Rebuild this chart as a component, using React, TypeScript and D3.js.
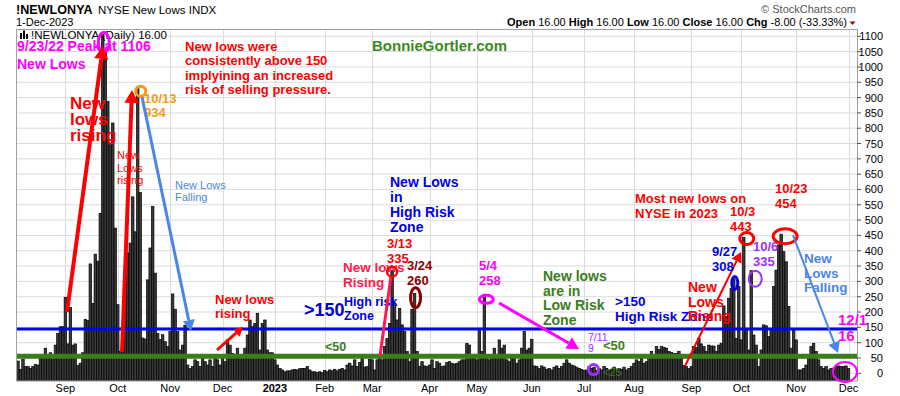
import * as d3 from 'd3';

// NYSE new lows, daily, 5-Aug-2022 .. 1-Dec-2023 (one value per trading day)
const newLows: number[] = [
  40, 13, 46, 22, 22, 16, 22, 29, 27, 49,
  54, 82, 49, 67, 46, 92, 130, 152, 152, 248,
  96, 215, 92, 96, 25, 33, 67, 176, 172, 357,
  228, 389, 366, 522, 1106, 1050, 888, 746, 817, 474,
  224, 72, 121, 344, 393, 425, 576, 462, 934, 590,
  115, 112, 305, 409, 545, 327, 130, 110, 126, 103,
  87, 136, 259, 209, 136, 76, 92, 157, 27, 16,
  22, 44, 38, 22, 49, 38, 27, 44, 22, 49,
  44, 27, 49, 38, 109, 92, 65, 54, 82, 54,
  49, 82, 125, 174, 152, 163, 196, 76, 163, 174,
  76, 67, 67, 44, 27, 16, 11, 5, 8, 8,
  11, 13, 11, 15, 16, 16, 22, 11, 5, 5,
  2, 5, 2, 9, 5, 11, 8, 13, 8, 13,
  16, 11, 27, 33, 24, 44, 22, 35, 49, 20,
  22, 46, 44, 11, 44, 48, 44, 87, 114, 163,
  335, 228, 174, 212, 158, 136, 71, 38, 209, 260,
  71, 22, 38, 24, 22, 27, 44, 16, 38, 33,
  22, 24, 35, 38, 33, 30, 33, 38, 44, 44,
  98, 92, 49, 54, 44, 147, 71, 258, 54, 44,
  60, 82, 54, 109, 82, 92, 44, 38, 49, 49,
  33, 44, 82, 136, 76, 82, 111, 24, 22, 16,
  24, 20, 13, 16, 11, 20, 24, 16, 22, 33,
  44, 33, 27, 24, 20, 16, 13, 9, 11, 22,
  16, 20, 9, 16, 11, 22, 16, 11, 13, 20,
  11, 16, 13, 20, 11, 16, 22, 33, 44, 38,
  49, 33, 38, 60, 71, 54, 87, 78, 87, 85,
  82, 71, 68, 65, 65, 72, 60, 25, 22, 16,
  22, 87, 84, 114, 96, 87, 71, 92, 89, 89,
  71, 92, 98, 220, 185, 245, 277, 308, 114, 283,
  109, 443, 141, 76, 335, 125, 92, 22, 76, 158,
  155, 120, 141, 283, 337, 419, 454, 397, 364, 218,
  82, 141, 109, 11, 11, 16, 27, 57, 87, 98,
  71, 44, 22, 16, 22, 11, 16, 11, 22, 24,
  22, 22, 24, 16,
];

// first trading day of each month (index into newLows)
const monthLabels = ['Sep', 'Oct', 'Nov', 'Dec', '2023', 'Feb', 'Mar', 'Apr', 'May', 'Jun', 'Jul', 'Aug', 'Sep', 'Oct', 'Nov', 'Dec'];
const monthStarts = [19, 40, 61, 82, 103, 123, 142, 165, 184, 206, 227, 247, 270, 290, 312, 333];

const yTicks = d3.range(0, 1101, 50);
const highRiskLevel = 145;
const lowRiskLevel = 56;

const FONT = '"Liberation Sans", Arial, Helvetica, sans-serif';
const W = 900;
const H = 396;
const plot = { left: 16, right: 857, top: 29, bottom: 380.5 };

const RED = '#ff0000';
const MAGENTA = '#ff00ff';
const LBLUE = '#4a86e8';
const BLUE = '#0000ff';
const GREEN = '#3a7d1c';
const PURPLE = '#9b30ff';

function Arrow({ x1, y1, x2, y2, color, width, head }: {
  x1: number; y1: number; x2: number; y2: number; color: string; width: number; head: number;
}) {
  const a = Math.atan2(y2 - y1, x2 - x1);
  const bx = x2 - Math.cos(a) * head;
  const by = y2 - Math.sin(a) * head;
  const hw = head * 0.55;
  const p1 = [bx + Math.sin(a) * hw, by - Math.cos(a) * hw];
  const p2 = [bx - Math.sin(a) * hw, by + Math.cos(a) * hw];
  return (
    <g>
      <line x1={x1} y1={y1} x2={bx} y2={by} stroke={color} strokeWidth={width} />
      <polygon points={`${x2},${y2} ${p1[0]},${p1[1]} ${p2[0]},${p2[1]}`} fill={color} />
    </g>
  );
}

function Lines({ x, y, lines, size, color, bold = true, gap }: {
  x: number; y: number; lines: string[]; size: number; color: string; bold?: boolean; gap: number;
}) {
  return (
    <text x={x} y={y} fontSize={size} fill={color} fontWeight={bold ? 'bold' : 'normal'} fontFamily={FONT}>
      {lines.map((l, i) => (
        <tspan key={i} x={x} dy={i === 0 ? 0 : gap}>{l}</tspan>
      ))}
    </text>
  );
}

export default function App() {
  const x = d3.scaleLinear().domain([0, newLows.length - 1]).range([18, 848.5]);
  const y = d3.scaleLinear().domain([0, 1100]).range([373.3, 36.3]);
  const barW = 2.5;

  return (
    <svg width={W} height={H} style={{ position: 'absolute', left: 0, top: 0, background: '#fff' }} fontFamily={FONT}>
      {/* header */}
      <text x={16} y={14} fontSize={12.6} fontWeight="bold" fill="#000">!NEWLONYA</text>
      <text x={98} y={14} fontSize={11.5} fill="#000">NYSE New Lows  INDX</text>
      <text x={16} y={26} fontSize={11} fill="#000">1-Dec-2023</text>
      <text x={856} y={13} fontSize={11} fill="#555" textAnchor="end">© StockCharts.com</text>
      <text x={847} y={26} fontSize={11} fill="#000" textAnchor="end">
        <tspan fontWeight="bold">Open</tspan> 16.00  <tspan fontWeight="bold">High</tspan> 16.00  <tspan fontWeight="bold">Low</tspan> 16.00  <tspan fontWeight="bold">Close</tspan> 16.00  <tspan fontWeight="bold">Chg</tspan> -8.00 (-33.33%)
      </text>
      <polygon points="849.5,21.5 855.5,21.5 852.5,25" fill="#a00000" />

      {/* grid */}
      {yTicks.map((t) => (
        <line key={`h${t}`} x1={plot.left} x2={plot.right} y1={y(t)} y2={y(t)} stroke="#dcdcdc" strokeWidth={1} />
      ))}
      {monthStarts.map((m, i) => (
        <line key={`v${i}`} x1={Math.round(x(m)) + 0.5} x2={Math.round(x(m)) + 0.5} y1={plot.top} y2={plot.bottom} stroke="#dcdcdc" strokeWidth={1} />
      ))}

      {/* bars */}
      {newLows.map((v, i) => (
        <rect key={i} x={x(i) - barW / 2} width={barW} y={y(v)} height={plot.bottom - y(v)}
          fill="#3a3a3a" stroke="#000" strokeWidth={0.7} />
      ))}

      {/* zone lines */}
      <line x1={plot.left} x2={plot.right} y1={y(highRiskLevel)} y2={y(highRiskLevel)} stroke={BLUE} strokeWidth={3} />
      <line x1={plot.left} x2={plot.right} y1={y(lowRiskLevel)} y2={y(lowRiskLevel)} stroke={GREEN} strokeWidth={5} />

      {/* frame */}
      <rect x={plot.left + 0.5} y={plot.top + 0.5} width={plot.right - plot.left} height={plot.bottom - plot.top} fill="none" stroke="#a0a0a0" strokeWidth={1} />

      {/* y axis */}
      {yTicks.map((t) => (
        <g key={`yl${t}`}>
          <line x1={plot.right} x2={plot.right + 4} y1={y(t)} y2={y(t)} stroke="#555" />
          <text x={883} y={y(t) + 4} fontSize={11} fill="#000" textAnchor="end">{t}</text>
        </g>
      ))}

      {/* x axis */}
      {monthStarts.map((m, i) => (
        <text key={`xl${i}`} x={x(m)} y={392} fontSize={11} fill="#000" textAnchor="middle"
          fontWeight={monthLabels[i] === '2023' ? 'bold' : 'normal'}>{monthLabels[i]}</text>
      ))}

      {/* legend line */}
      <g fill="#000">
        <rect x={20} y={33} width={2} height={6} />
        <rect x={23} y={30.5} width={2} height={8.5} />
        <rect x={26} y={34} width={2} height={5} />
      </g>
      <text x={31} y={38.5} fontSize={11.5} fill="#000">!NEWLONYA (Daily) 16.00</text>

      {/* 2022 annotations */}
      <Lines x={17} y={51} lines={['9/23/22 Peak at 1106']} size={14} color={MAGENTA} gap={0} />
      <Lines x={17} y={69} lines={['New Lows']} size={14} color={MAGENTA} gap={0} />
      <ellipse cx={x(34) + 1} cy={y(1106) + 8} rx={5.5} ry={10} fill="none" stroke={MAGENTA} strokeWidth={3} />

      <Lines x={185} y={51} lines={['New lows were', 'consistently above 150', 'implyining an increased', 'risk of selling pressure.']}
        size={13} color={RED} gap={14.3} />
      <text x={372} y={51} fontSize={15} fontWeight="bold" fill="#3b8a1e">BonnieGortler.com</text>

      <Lines x={144} y={103} lines={['10/13', '934']} size={13} color="#f39c12" gap={14} />
      <circle cx={x(48) + 3} cy={y(934) + 4} r={5} fill="none" stroke="#f39c12" strokeWidth={3} />

      <Arrow x1={67} y1={312} x2={103} y2={46} color={RED} width={4} head={13} />
      <Lines x={70} y={109} lines={['New', 'lows', 'rising']} size={17} color={RED} gap={16} />
      <Arrow x1={122} y1={352} x2={132} y2={90} color={RED} width={4} head={13} />
      <Lines x={117} y={159} lines={['New', 'Lows', 'rising']} size={11} color={RED} bold={false} gap={12.5} />
      <Arrow x1={142} y1={97} x2={191} y2={331} color={LBLUE} width={3} head={11} />
      <Lines x={175} y={189} lines={['New Lows', 'Falling']} size={11} color={LBLUE} bold={false} gap={12} />

      <Lines x={215} y={304} lines={['New lows', 'rising']} size={13} color={RED} gap={14} />
      <Arrow x1={217} y1={350} x2={243} y2={327} color={RED} width={3} head={9} />

      {/* 2023 H1 annotations */}
      <text x={304} y={316} fontSize={18} fontWeight="bold" fill="#0000dd">&gt;150</text>
      <Lines x={344} y={306} lines={['High risk', 'Zone']} size={12.5} color="#0000dd" gap={14} />
      <text x={325} y={351} fontSize={12.5} fontWeight="bold" fill={GREEN}>&lt;50</text>

      <Lines x={390} y={187} lines={['New Lows', 'in', 'High Risk', 'Zone']} size={14} color="#0000ee" gap={15} />
      <Lines x={387} y={248} lines={['3/13', '335']} size={13} color={RED} gap={14.5} />
      <Lines x={343} y={272} lines={['New lows', 'Rising']} size={13.5} color="#ff1a4d" gap={14.5} />
      <line x1={380} y1={356} x2={391} y2={276} stroke="#ff1a4d" strokeWidth={3} />
      <circle cx={x(150)} cy={y(335) + 1} r={5} fill="none" stroke={RED} strokeWidth={2.5} />

      <Lines x={407} y={270} lines={['3/24', '260']} size={13} color="#8b0000" gap={14.5} />
      <ellipse cx={x(159) + 1} cy={y(260) + 4} rx={5} ry={10} fill="none" stroke="#8b0000" strokeWidth={3} />

      <Lines x={479} y={270} lines={['5/4', '258']} size={13} color={MAGENTA} gap={15} />
      <ellipse cx={x(187) + 2} cy={y(258) + 5} rx={7} ry={4} fill="none" stroke={MAGENTA} strokeWidth={3} />
      <Arrow x1={499} y1={303} x2={579} y2={349} color={MAGENTA} width={3} head={12} />

      <Lines x={543} y={281} lines={['New lows', 'are in', 'Low Risk', 'Zone']} size={14} color={GREEN} gap={14.7} />

      <Lines x={588} y={341} lines={['7/11', '9']} size={10.5} color={PURPLE} bold={false} gap={11} />
      <circle cx={x(232) - 3} cy={y(9) - 1} r={5} fill="none" stroke={PURPLE} strokeWidth={3} />
      <text x={603} y={350} fontSize={13} fontWeight="bold" fill={GREEN}>&lt;50</text>
      <text x={603} y={376} fontSize={11} fill={GREEN}>&lt;25</text>

      <Lines x={615} y={306} lines={['>150', 'High Risk Zone']} size={13.5} color="#0000dd" gap={14.5} />

      {/* 2023 H2 annotations */}
      <Lines x={635} y={203} lines={['Most new lows on', 'NYSE in 2023']} size={13} color={RED} gap={14.5} />
      <Arrow x1={685} y1={366} x2={741} y2={252} color={RED} width={2} head={10} />
      <Lines x={688} y={292} lines={['New', 'Lows', 'Rising']} size={14} color={RED} gap={14.5} />

      <Lines x={730} y={216} lines={['10/3', '443']} size={13} color={RED} gap={14.5} />
      <ellipse cx={x(291) + 3} cy={y(443) + 1} rx={7} ry={6} fill="none" stroke={RED} strokeWidth={3} />

      <Lines x={712} y={256} lines={['9/27', '308']} size={13} color="#0000ee" gap={15} />
      <ellipse cx={x(287) + 1} cy={y(308) + 4} rx={3} ry={6.5} fill="none" stroke="#0000ee" strokeWidth={3} />

      <Lines x={753} y={251} lines={['10/6', '335']} size={13} color={PURPLE} gap={14.5} />
      <ellipse cx={x(294) + 4} cy={y(335) + 8} rx={6.5} ry={8} fill="none" stroke={PURPLE} strokeWidth={2} />

      <Lines x={775} y={193} lines={['10/23', '454']} size={13} color={RED} gap={14.5} />
      <ellipse cx={x(306) + 4} cy={y(454) + 2} rx={12} ry={7.5} fill="none" stroke={RED} strokeWidth={3} />

      <Arrow x1={793} y1={235} x2={838} y2={353} color={LBLUE} width={2} head={11} />
      <Lines x={804} y={263} lines={['New', 'Lows', 'Falling']} size={13.5} color={LBLUE} gap={14.5} />

      <Lines x={838} y={325} lines={['12/1', '16']} size={15} color={MAGENTA} gap={15.5} />
      <ellipse cx={x(333) - 3.5} cy={y(16) + 3.5} rx={12} ry={10} fill="none" stroke={MAGENTA} strokeWidth={2} />
    </svg>
  );
}
